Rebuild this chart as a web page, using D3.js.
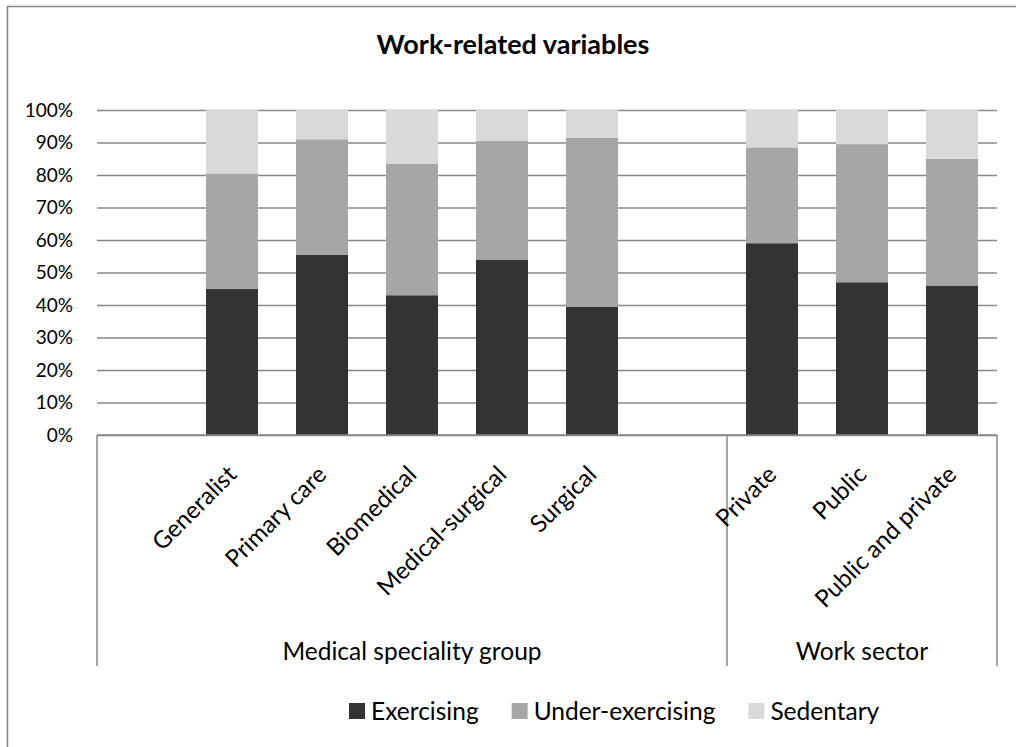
<!DOCTYPE html>
<html>
<head>
<meta charset="utf-8">
<script src="https://cdn.jsdelivr.net/npm/d3@7"></script>
<style>
  body { margin: 0; background: #fff; }
  text { font-family: Lato, "Open Sans", sans-serif; fill: #000; }
</style>
</head>
<body>
<script>
// slots: empty slots keep the gaps Excel leaves at the group edges
var categories = ["", "Generalist", "Primary care", "Biomedical", "Medical-surgical", "Surgical", "", "Private", "Public", "Public and private"];
var exercising      = [0, 45,   55.5, 43,   54,   39.5, 0, 59,   47,   46];
var underExercising = [0, 35.5, 35.5, 40.5, 36.5, 52,   0, 29.5, 42.5, 39];
var sedentary       = [0, 19.5, 9,    16.5, 9.5,  8.5,  0, 11.5, 10.5, 15];
var seriesNames = ["Exercising", "Under-exercising", "Sedentary"];
var seriesColors = ["#333333", "#a6a6a6", "#d9d9d9"];
var groupNames = ["Medical speciality group", "Work sector"];
var groupFirst = [0, 7];
var groupLast = [6, 9];
var yTicks = [0, 0.1, 0.2, 0.3, 0.4, 0.5, 0.6, 0.7, 0.8, 0.9, 1];

var w = 1016, h = 747;
var plotLeft = 97, plotRight = 997, plotTop = 110, plotBottom = 435;

var svg = d3.select("body").append("svg")
  .attr("width", w).attr("height", h);

// outer chart border
svg.append("rect")
  .attr("x", 7.5).attr("y", 6.5)
  .attr("width", 1014).attr("height", 760)
  .attr("fill", "none").attr("stroke", "#868686").attr("stroke-width", 1.5);

svg.append("text")
  .attr("x", 513).attr("y", 54)
  .attr("text-anchor", "middle")
  .style("font-size", "27px").style("font-weight", "bold")
  .text("Work-related variables");

var rows = categories.map(function(c, i) {
  return { slot: i, "Exercising": exercising[i], "Under-exercising": underExercising[i], "Sedentary": sedentary[i] };
});

var p = 38 / 90;
var xScale = d3.scaleBand()
  .domain(d3.range(categories.length))
  .range([plotLeft, plotRight])
  .paddingInner(p).paddingOuter(p / 2);
var yScale = d3.scaleLinear().domain([0, 1]).range([plotBottom, plotTop]);

// gridlines + y labels
var yAxis = svg.append("g")
  .attr("transform", "translate(" + plotLeft + ",0)")
  .call(d3.axisLeft(yScale).tickValues(yTicks).tickSize(-(plotRight - plotLeft))
    .tickPadding(24).tickFormat(d3.format(".0%")));
yAxis.select(".domain").remove();
yAxis.selectAll("line").attr("stroke", "#878787").attr("stroke-width", 1.5);
yAxis.selectAll("text").style("font-size", "19px").style("font-family", "Lato, sans-serif").attr("fill", "#000");

var stacked = d3.stack().keys(seriesNames).offset(d3.stackOffsetExpand)(rows.filter(function(r) { return categories[r.slot] !== ""; }));

svg.selectAll("g.series")
  .data(stacked)
  .enter().append("g")
  .attr("class", "series")
  .attr("fill", function(d, i) { return seriesColors[i]; })
  .selectAll("rect")
  .data(function(d) { return d; })
  .enter().append("rect")
  .attr("x", function(d) { return xScale(d.data.slot); })
  .attr("width", xScale.bandwidth())
  .attr("y", function(d) { return yScale(d[1]); })
  .attr("height", function(d) { return yScale(d[0]) - yScale(d[1]); });

// category axis line
svg.append("line")
  .attr("x1", plotLeft).attr("x2", plotRight)
  .attr("y1", plotBottom).attr("y2", plotBottom)
  .attr("stroke", "#878787").attr("stroke-width", 1.5);

var step = xScale.step();
var dividers = [0].concat(groupLast.map(function(g) { return g + 1; }));
svg.selectAll("line.div")
  .data(dividers)
  .enter().append("line")
  .attr("class", "div")
  .attr("x1", function(d) { return plotLeft + d * step; })
  .attr("x2", function(d) { return plotLeft + d * step; })
  .attr("y1", plotBottom).attr("y2", 666)
  .attr("stroke", "#878787").attr("stroke-width", 1.5);

svg.selectAll("text.cat")
  .data(categories.map(function(c, i) { return { name: c, slot: i }; }).filter(function(d) { return d.name !== ""; }))
  .enter().append("text")
  .attr("class", "cat")
  .attr("text-anchor", "end")
  .attr("transform", function(d) {
    var cx = xScale(d.slot) + xScale.bandwidth() / 2;
    return "translate(" + (cx + 6) + "," + 476 + ") rotate(-45)";
  })
  .style("font-size", "24px")
  .text(function(d) { return d.name; });

svg.selectAll("text.group")
  .data(groupNames)
  .enter().append("text")
  .attr("class", "group")
  .attr("text-anchor", "middle")
  .attr("x", function(d, i) { return plotLeft + (groupFirst[i] + groupLast[i] + 1) / 2 * step; })
  .attr("y", 660)
  .style("font-size", "24.5px")
  .text(function(d) { return d; });

// legend
var legend = svg.append("g").attr("transform", "translate(349,711)");
var lx = 0;
seriesNames.forEach(function(name, i) {
  var item = legend.append("g").attr("transform", "translate(" + lx + ",0)");
  item.append("rect")
    .attr("x", 0).attr("y", -8)
    .attr("width", 16).attr("height", 16)
    .attr("fill", seriesColors[i]);
  var t = item.append("text")
    .attr("x", 22).attr("y", 8.5)
    .style("font-size", "24.5px")
    .text(name);
  lx += 22 + t.node().getComputedTextLength() + 33;
});
</script>
</body>
</html>
